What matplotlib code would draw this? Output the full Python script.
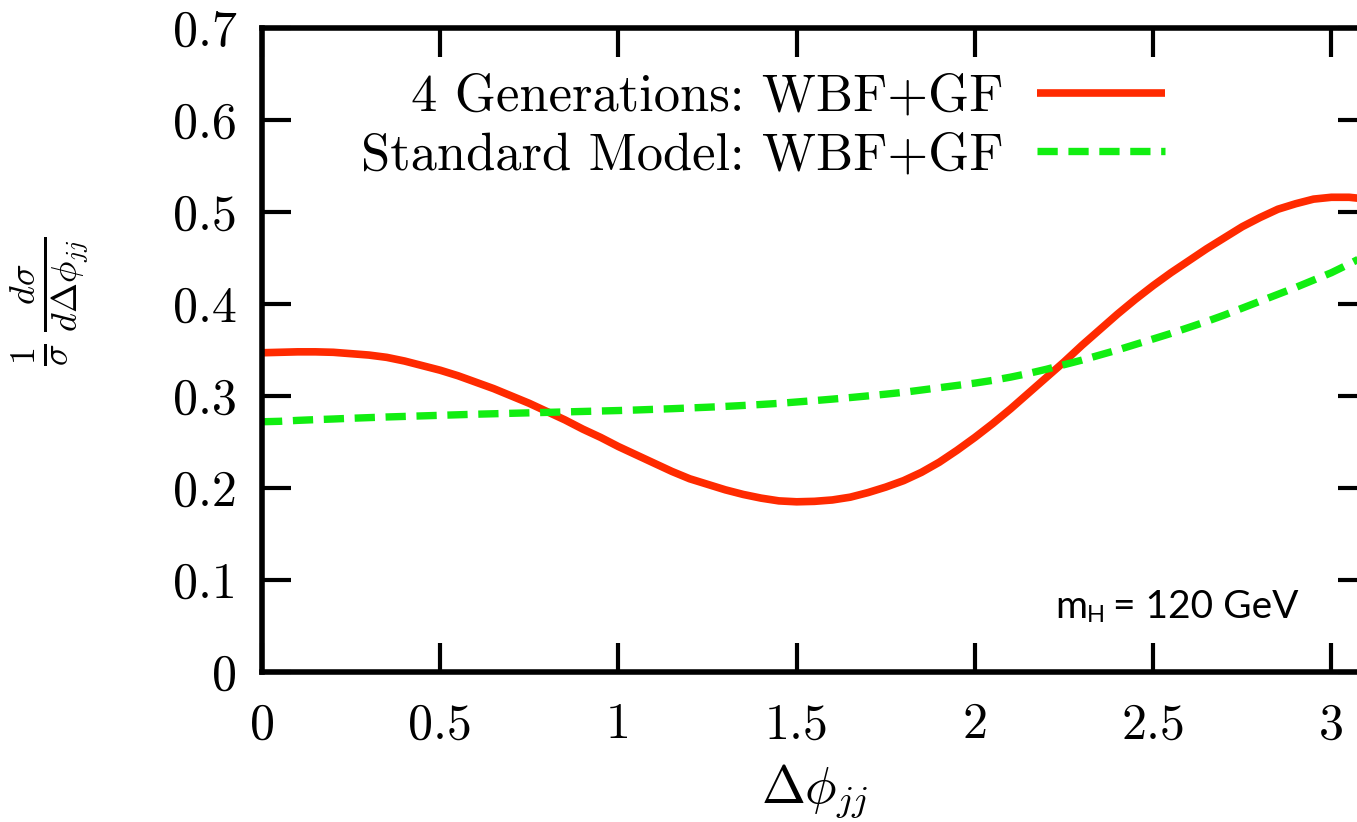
import matplotlib
matplotlib.use("Agg")
import matplotlib.pyplot as plt
from matplotlib.ticker import FormatStrFormatter

# ---- data ----
dphi = [0.00, 0.05, 0.10, 0.15, 0.20, 0.25, 0.30, 0.35, 0.40, 0.45,
        0.50, 0.55, 0.60, 0.65, 0.70, 0.75, 0.80, 0.85, 0.90, 0.95,
        1.00, 1.05, 1.10, 1.15, 1.20, 1.25, 1.30, 1.35, 1.40, 1.45,
        1.50, 1.55, 1.60, 1.65, 1.70, 1.75, 1.80, 1.85, 1.90, 1.95,
        2.00, 2.05, 2.10, 2.15, 2.20, 2.25, 2.30, 2.35, 2.40, 2.45,
        2.50, 2.55, 2.60, 2.65, 2.70, 2.75, 2.80, 2.85, 2.90, 2.95,
        3.00, 3.05, 3.10]
gen4 = [0.347, 0.3475, 0.348, 0.348, 0.3475, 0.346, 0.3445, 0.342, 0.338, 0.333,
        0.328, 0.322, 0.315, 0.308, 0.300, 0.292, 0.283, 0.274, 0.264, 0.255,
        0.245, 0.236, 0.227, 0.218, 0.210, 0.204, 0.198, 0.193, 0.189, 0.186,
        0.185, 0.1855, 0.187, 0.190, 0.195, 0.201, 0.208, 0.217, 0.228, 0.241,
        0.255, 0.270, 0.286, 0.303, 0.320, 0.337, 0.355, 0.372, 0.389, 0.405,
        0.420, 0.434, 0.447, 0.460, 0.472, 0.484, 0.494, 0.503, 0.509, 0.514,
        0.516, 0.516, 0.514]
sm = [0.2720, 0.2725, 0.2735, 0.2743, 0.2750, 0.2758, 0.2765, 0.2772, 0.2778, 0.2784,
      0.2790, 0.2796, 0.2802, 0.2807, 0.2812, 0.2817, 0.2822, 0.2827, 0.2832, 0.2837,
      0.2842, 0.2848, 0.2855, 0.2862, 0.2870, 0.2878, 0.2887, 0.2897, 0.2908, 0.2920,
      0.2935, 0.2950, 0.2966, 0.2983, 0.3001, 0.3020, 0.3040, 0.3065, 0.3090, 0.3115,
      0.3140, 0.3170, 0.3205, 0.3245, 0.3290, 0.3340, 0.3390, 0.3445, 0.3500, 0.3560,
      0.3620, 0.3680, 0.3745, 0.3810, 0.3880, 0.3955, 0.4030, 0.4105, 0.4180, 0.4260,
      0.4340, 0.4435, 0.4535]
labels = ["4 Generations: WBF+GF", "Standard Model: WBF+GF"]
xticks = [0, 0.5, 1, 1.5, 2, 2.5, 3]
yticks = [0, 0.1, 0.2, 0.3, 0.4, 0.5, 0.6, 0.7]

plt.rcParams['font.family'] = 'serif'
plt.rcParams['font.serif'] = ['cmr10']
plt.rcParams['mathtext.fontset'] = 'cm'
plt.rcParams['axes.unicode_minus'] = False

W, H = 1357, 822
fig = plt.figure(figsize=(W / 100, H / 100), dpi=100)
L, R, T, B = 262, 1367, 28, 672
ax = fig.add_axes([L / W, 1 - B / H, (R - L) / W, (B - T) / H])

ax.plot(dphi, gen4, color='#ff2a00', lw=5.5, solid_capstyle='butt',
        solid_joinstyle='round', label=labels[0])
ax.plot(dphi, sm, color='#11ee11', lw=5.3, dashes=(2.75, 1.45), dash_capstyle='butt',
        dash_joinstyle='round', label=labels[1])

ax.set_xlim(0, 3.1)
ax.set_ylim(0, 0.7)
ax.set_xticks(xticks)
ax.set_yticks(yticks)
ax.xaxis.set_major_formatter(FormatStrFormatter('%g'))
ax.yaxis.set_major_formatter(FormatStrFormatter('%g'))
ax.tick_params(direction='in', length=21, width=3, top=True, right=True,
               labelsize=36, pad=18)
ax.tick_params(axis='x', pad=22)
for s in ax.spines.values():
    s.set_linewidth(4)

leg = ax.legend(loc='upper right', bbox_to_anchor=(1165 / W, 1 - 74 / H),
                bbox_transform=fig.transFigure, frameon=False,
                markerfirst=False, fontsize=37.8, handlelength=2.44,
                handletextpad=0.63, labelspacing=0.22, borderpad=0, borderaxespad=0)

fig.text(815 / W, 1 - 803 / H, r'$\Delta\phi_{jj}$', fontsize=38, ha='center', va='baseline')
fig.text(50 / W, 1 - 301 / H, r'$\frac{1}{\sigma}\,\frac{d\sigma}{d\Delta\phi_{jj}}$',
         fontsize=37, rotation=90, ha='center', va='center')

fig.text(1055 / W, 1 - 618 / H, 'm', family='Lato', fontsize=28, va='baseline', ha='left')
fig.text(1087 / W, 1 - 622 / H, 'H', family='Lato', fontsize=17, va='baseline', ha='left')
fig.text(1113 / W, 1 - 618 / H, '= 120 GeV', family='Lato', fontsize=28, va='baseline', ha='left')

fig.savefig('out.png', dpi=100)
